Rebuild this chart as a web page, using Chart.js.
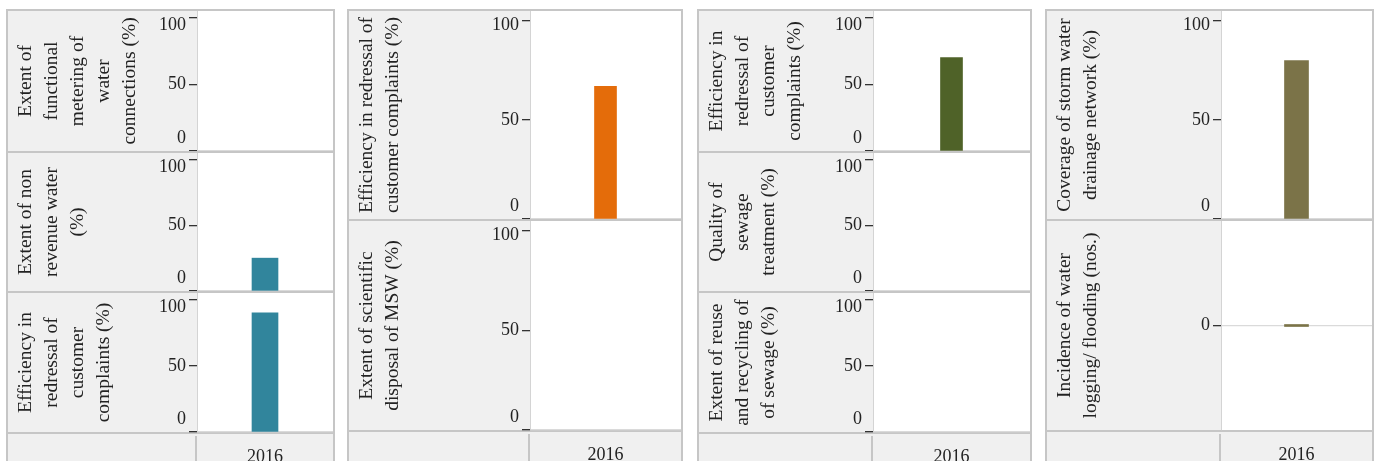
<!DOCTYPE html>
<html>
<head>
<meta charset="utf-8">
<script src="https://cdn.jsdelivr.net/npm/chart.js@4"></script>
<style>
  html, body { margin: 0; padding: 0; background: #fff; }
  body { position: relative; width: 1377px; height: 461px; overflow: hidden; }
  .col { position: absolute; box-sizing: border-box; background: #f0f0f0; border: 2px solid #c6c6c6; border-bottom: none; }
  .line { position: absolute; background: #c6c6c6; }
  .panel { position: absolute; }
</style>
</head>
<body>
<script>
// data
const years = ["2016"];
const percentTicks = [0, 50, 100];
const countTicks = [0];

const waterTitles = [
  ["Extent of", "functional", "metering of", "water", "connections (%)"],
  ["Extent of non", "revenue water", "(%)"],
  ["Efficiency in", "redressal of", "customer", "complaints (%)"],
];
const waterValues = [null, 25, 90];

const wasteTitles = [
  ["Efficiency in redressal of", "customer complaints (%)"],
  ["Extent of scientific", "disposal of MSW (%)"],
];
const wasteValues = [67, null];

const sewageTitles = [
  ["Efficiency in", "redressal of", "customer", "complaints (%)"],
  ["Quality of", "sewage", "treatment (%)"],
  ["Extent of reuse", "and recycling of", "of sewage (%)"],
];
const sewageValues = [70, null, null];

const stormTitles = [
  ["Coverage of storm water", "drainage network (%)"],
  ["Incidence of water", "logging/ flooding (nos.)"],
];
const stormValues = [80, 0];

// layout + look
const FONT = "'Liberation Serif', 'Times New Roman', serif";
const INK = "#222";
const EDGE = "#c6c6c6";
const STRIP_H = 40;

const columns = [
  { x0: 6, xA: 197, x1: 335, panels: [[11, 151], [153, 291], [293, 432]],
    titles: waterTitles, values: waterValues, ticks: [percentTicks, percentTicks, percentTicks],
    color: "#31859c", barW: 26 },
  { x0: 347, xA: 530, x1: 683, panels: [[11, 219], [221, 430]],
    titles: wasteTitles, values: wasteValues, ticks: [percentTicks, percentTicks],
    color: "#e46c0a", barW: 22 },
  { x0: 697, xA: 873, x1: 1032, panels: [[11, 151], [153, 291], [293, 432]],
    titles: sewageTitles, values: sewageValues, ticks: [percentTicks, percentTicks, percentTicks],
    color: "#4f6228", barW: 22 },
  { x0: 1045, xA: 1221, x1: 1374, panels: [[11, 219], [221, 430]],
    titles: stormTitles, values: stormValues, ticks: [percentTicks, countTicks],
    color: "#7b7348", barW: 24 },
];

const plotBg = {
  id: "plotBg",
  beforeDraw(chart) {
    const { ctx, chartArea: a } = chart;
    ctx.save();
    ctx.fillStyle = "#fff";
    ctx.fillRect(a.left, a.top, a.width, a.height);
    ctx.restore();
  },
};

// keep the end labels inside the panel, like the original
function tickFont(c) {
  const s = c.scale;
  let lh = 1.2;
  if (c.tick && s && s.bottom > s.top) {
    const px = s.getPixelForValue(c.tick.value);
    const want = Math.min(Math.max(px, s.top + 14), s.bottom - 12.5);
    lh = Math.max(Math.abs(want - px) * 2, 1) + "px";
  }
  return { family: FONT, size: 18, lineHeight: lh };
}

function addDiv(cls, x, y, w, h) {
  const d = document.createElement("div");
  d.className = cls;
  d.style.cssText = `left:${x}px;top:${y}px;width:${w}px;height:${h}px`;
  document.body.appendChild(d);
  return d;
}

function makePanel(col, i) {
  const last = i === col.panels.length - 1;
  const [top, bottom] = col.panels[i];
  const left = col.x0 + 2;
  const width = col.x1 - col.x0 - 4;
  const stripH = last ? STRIP_H : 0;
  const wrap = addDiv("panel", left, top, width, bottom - top + stripH);
  const canvas = document.createElement("canvas");
  wrap.appendChild(canvas);

  const ticks = col.ticks[i];
  const range = ticks.length > 1 ? { min: 0, max: 105 } : { min: -1, max: 1 };

  new Chart(canvas, {
    type: "bar",
    data: {
      labels: years,
      datasets: [{
        data: [col.values[i]],
        backgroundColor: col.color,
        barThickness: col.barW,
        minBarLength: 2,
      }],
    },
    options: {
      responsive: true,
      maintainAspectRatio: false,
      animation: false,
      events: [],
      layout: { padding: 0 },
      plugins: { legend: { display: false }, tooltip: { enabled: false } },
      scales: {
        x: {
          display: last,
          offset: true,
          grid: { display: false },
          border: { display: false },
          ticks: { padding: 6, color: INK, font: { family: FONT, size: 18 } },
          afterFit: (s) => { s.height = stripH; s.paddingLeft = 0; s.paddingRight = 0; },
        },
        y: {
          min: range.min,
          max: range.max,
          afterBuildTicks: (s) => { s.ticks = ticks.map((v) => ({ value: v })); },
          afterFit: (s) => { s.width = col.xA - left; s.paddingTop = 0; s.paddingBottom = 0; },
          grid: {
            color: (c) => (c.tick && c.tick.value === 0 ? "#dadada" : "rgba(0,0,0,0)"),
            tickColor: "#333",
            tickLength: 8,
            lineWidth: 1.3,
          },
          border: { display: true, color: "#d4d4d4", width: 1 },
          ticks: {
            autoSkip: false,
            padding: 3,
            color: INK,
            font: tickFont,
            callback(v) {
              const f = (v - this.min) / (this.max - this.min);
              const t = String(v);
              if (f < 0.1) return [t, ""];
              if (f > 0.9) return ["", t];
              return t;
            },
          },
          title: {
            display: true,
            text: col.titles[i],
            color: INK,
            font: { family: FONT, size: 19.5, lineHeight: "26px" },
            padding: { top: 5, bottom: 0 },
          },
        },
      },
    },
    plugins: [plotBg],
  });
}

columns.forEach((col) => {
  addDiv("col", col.x0, 9, col.x1 - col.x0, 470);
  col.panels.forEach(([top, bottom]) => {
    addDiv("line", col.x0, bottom, col.x1 - col.x0, 2);
  });
  const lastBottom = col.panels[col.panels.length - 1][1];
  addDiv("line", col.xA - 2, lastBottom + 4, 2, 40);
  col.panels.forEach((p, i) => makePanel(col, i));
});
</script>
</body>
</html>
